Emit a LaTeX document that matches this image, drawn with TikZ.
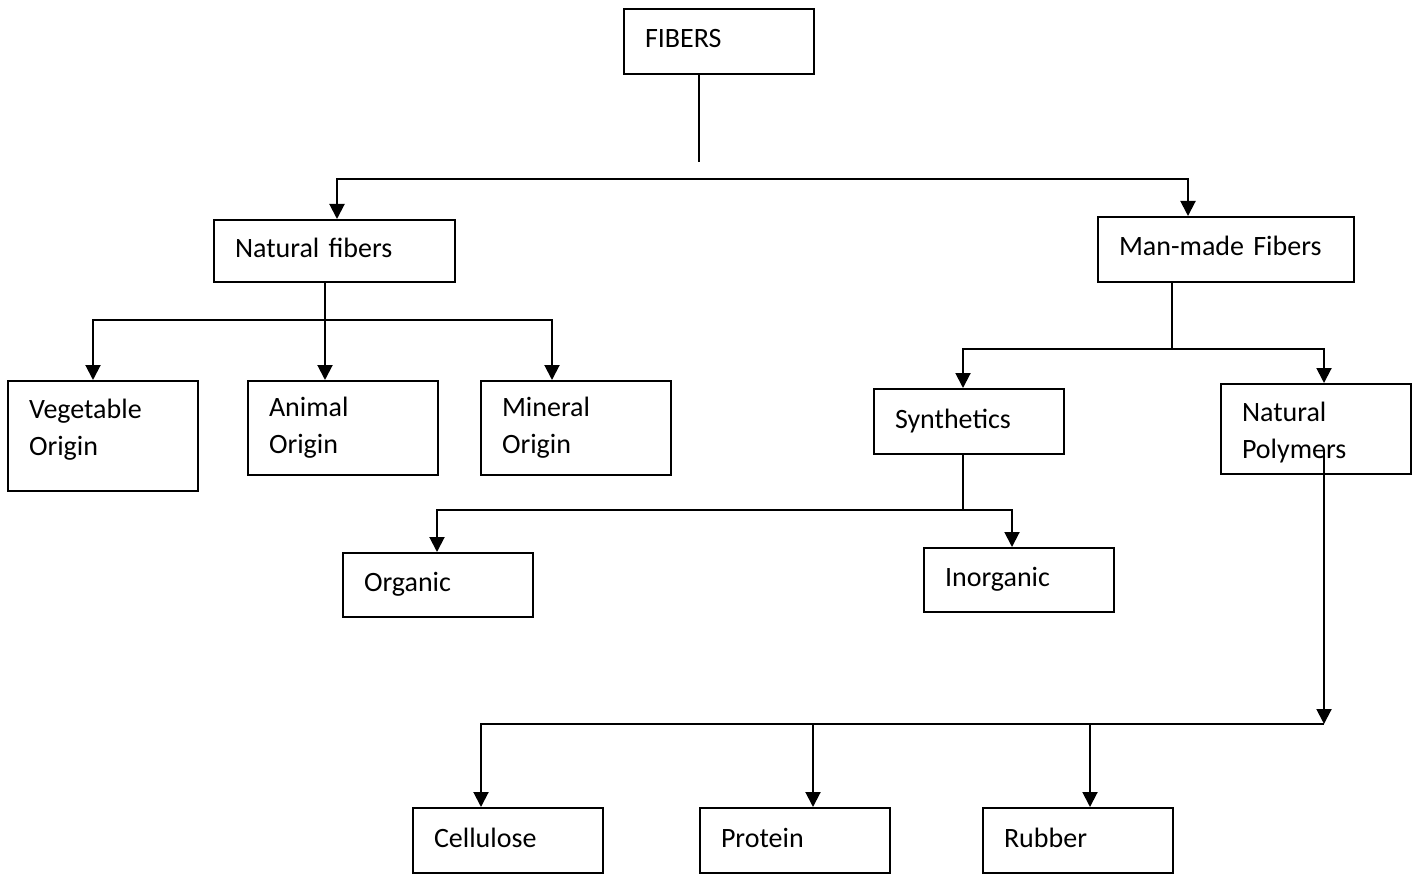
\documentclass[tikz,border=0pt]{standalone}
\usepackage{fontspec}
\setmainfont{Carlito}
\usetikzlibrary{arrows.meta}

\tikzset{
  box/.style={draw, line width=2pt, anchor=north west, inner xsep=21pt, inner ysep=0pt,
    minimum height=65pt, text width=148pt, align=left, font=\fontsize{28}{37}\selectfont},
  oneline/.style={box, text height=20pt, text depth=7pt},
  link/.style={line width=2pt},
  arrow/.style={link, -{Triangle[width=15pt,length=15pt]}},
  twoway/.style={link, {Triangle[width=15pt,length=15pt]}-{Triangle[width=15pt,length=15pt]}}
}

\begin{document}
\begin{tikzpicture}[x=1pt, y=-1pt]
\useasboundingbox (0,0) rectangle (1418,874);
% boxes
\node[oneline] (fibers) at (623,8) {FIBERS};
\node[oneline, text width=199pt, minimum height=62pt] (natural) at (213,219) {Natural fibers};
\node[oneline, text width=214pt] (manmade) at (1097,216) {Man-made Fibers};
\node[box, minimum height=110pt, text depth=54pt] (veg) at (7,380) {Vegetable\\Origin};
\node[box, minimum height=94pt] (animal) at (247,380) {Animal\\Origin};
\node[box, minimum height=94pt] (mineral) at (480,380) {Mineral\\Origin};
\node[oneline] (synth) at (873,388) {Synthetics};
\node[box, minimum height=90pt, text depth=34pt] (polymers) at (1220,383) {Natural\\Polymers};
\node[oneline, minimum height=64pt] (organic) at (342,552) {Organic};
\node[oneline, minimum height=64pt] (inorganic) at (923,547) {Inorganic};
\node[oneline] (cellulose) at (412,807) {Cellulose};
\node[oneline] (protein) at (699,807) {Protein};
\node[oneline] (rubber) at (982,807) {Rubber};

% bus points
\coordinate (fibersEnd) at (699,162);
\coordinate (natTop) at (337,179);
\coordinate (manTop) at (1188,179);
\coordinate (natBus) at (325,320);
\coordinate (vegTop) at (93,320);
\coordinate (minTop) at (552,320);
\coordinate (manBus) at (1172,349);
\coordinate (synTop) at (963,349);
\coordinate (polTop) at (1324,349);
\coordinate (synBus) at (963,510);
\coordinate (orgTop) at (437,510);
\coordinate (inorgTop) at (1012,510);
\coordinate (polStart) at (1324,450);
\coordinate (polBus) at (1324,724);
\coordinate (celTop) at (481,724);
\coordinate (proTop) at (813,724);
\coordinate (rubTop) at (1090,724);

% connectors
\draw[link] (fibers.south -| fibersEnd) -- (fibersEnd);
\draw[twoway] (natural.north -| natTop) -- (natTop) -- (manTop) -- (manmade.north -| manTop);
\draw[arrow] (natural.south -| natBus) -- (animal.north -| natBus);
\draw[twoway] (veg.north -| vegTop) -- (vegTop) -- (minTop) -- (mineral.north -| minTop);
\draw[link] (manmade.south -| manBus) -- (manBus);
\draw[twoway] (synth.north -| synTop) -- (synTop) -- (polTop) -- (polymers.north -| polTop);
\draw[link] (synth.south -| synBus) -- (synBus);
\draw[twoway] (organic.north -| orgTop) -- (orgTop) -- (inorgTop) -- (inorganic.north -| inorgTop);
\draw[arrow] (polStart) -- (polBus);
\draw[arrow] (polBus) -- (celTop) -- (cellulose.north -| celTop);
\draw[arrow] (proTop) -- (protein.north -| proTop);
\draw[arrow] (rubTop) -- (rubber.north -| rubTop);
\end{tikzpicture}
\end{document}
